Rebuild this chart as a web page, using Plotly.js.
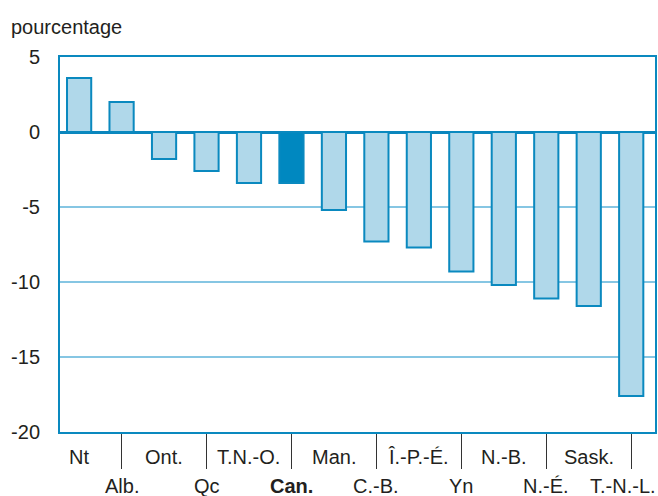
<!DOCTYPE html>
<html>
<head>
<meta charset="utf-8">
<script src="https://cdn.plot.ly/plotly-3.0.1.min.js"></script>
<style>html,body{margin:0;padding:0;background:#fff;}#chart{width:658px;height:496px;}</style>
</head>
<body>
<div id="chart"></div>
<script>
// Data
const categories = ["Nt","Alb.","Ont.","Qc","T.N.-O.","Can.","Man.","C.-B.","Î.-P.-É.","Yn","N.-B.","N.-É.","Sask.","T.-N.-L."];
const values = [3.6, 2.0, -1.8, -2.6, -3.4, -3.4, -5.2, -7.3, -7.7, -9.3, -10.2, -11.1, -11.6, -17.6];
const yTicks = [5, 0, -5, -10, -15, -20];
const highlight = "Can.";

const FONT = "'Liberation Sans', Arial, sans-serif";
const TXT = "#231f20";
const EDGE = "#0a89bf";
const LIGHT = "#b0d8ea";
const DARK = "#0088c0";

const fills = categories.map(c => c === highlight ? DARK : LIGHT);

const trace = {
  type: "bar",
  x: categories,
  y: values,
  width: 0.57,
  marker: {color: fills, line: {color: EDGE, width: 2}},
  hoverinfo: "skip"
};

const annotations = categories.map((c, i) => ({
  x: c, xref: "x",
  y: i % 2 === 0 ? -0.066 : -0.145, yref: "paper",
  xshift: i === categories.length - 1 ? -8 : 0,
  text: c === highlight ? "<b>" + c + "</b>" : c,
  showarrow: false,
  xanchor: "center", yanchor: "middle",
  font: {family: FONT, size: 20, color: TXT}
}));

const layout = {
  width: 658, height: 496,
  margin: {l: 60, r: 3, t: 57, b: 64, pad: 0},
  paper_bgcolor: "#fff", plot_bgcolor: "#fff",
  showlegend: false,
  title: {
    text: "pourcentage",
    x: 11/658, xref: "container", xanchor: "left",
    y: 1 - 27/496, yref: "container", yanchor: "middle",
    font: {family: FONT, size: 20, color: TXT}
  },
  xaxis: {
    type: "category",
    range: [-0.45, 13.56],
    tickmode: "array",
    tickvals: categories.filter((c, i) => i % 2 === 1),
    showticklabels: false,
    ticks: "outside", ticklen: 35, tickwidth: 1, tickcolor: "#333",
    showline: true, linecolor: EDGE, linewidth: 2, mirror: true,
    showgrid: false, zeroline: false, fixedrange: true
  },
  yaxis: {
    range: [-20, 5],
    tickmode: "array",
    tickvals: yTicks,
    ticktext: yTicks.map(String),
    ticks: "outside", ticklen: 14, tickcolor: "rgba(0,0,0,0)",
    tickfont: {family: FONT, size: 20, color: TXT},
    showline: true, linecolor: EDGE, linewidth: 2, mirror: true,
    showgrid: true, gridcolor: "#86c6e3", gridwidth: 1.5,
    zeroline: true, zerolinecolor: "#0a86bd", zerolinewidth: 3,
    fixedrange: true
  },
  annotations: annotations
};

Plotly.newPlot("chart", [trace], layout, {displayModeBar: false, staticPlot: true});
</script>
</body>
</html>
